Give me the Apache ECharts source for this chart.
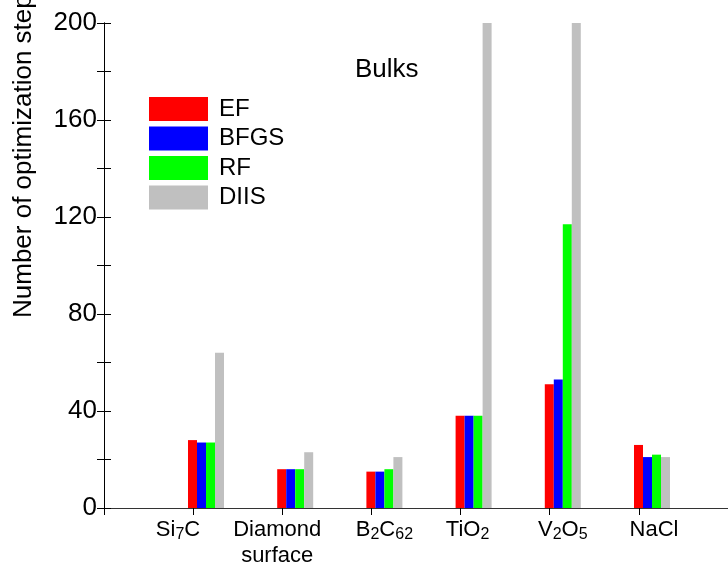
<!DOCTYPE html>
<html>
<head>
<meta charset="utf-8">
<script src="https://cdn.jsdelivr.net/npm/echarts@6/dist/echarts.min.js"></script>
<style>
  html, body { margin: 0; padding: 0; background: #fff; }
  #chart { width: 728px; height: 569px; }
</style>
</head>
<body>
<div id="chart"></div>
<script>
// Optimization steps per method for each bulk system
const categories = ['Si{s|7}C', 'Diamond\nsurface', 'B{s|2}C{s|62}', 'TiO{s|2}', 'V{s|2}O{s|5}', 'NaCl'];
const methods = ['EF', 'BFGS', 'RF', 'DIIS'];
const efSteps   = [28, 16, 15, 38, 51, 26];
const bfgsSteps = [27, 16, 15, 38, 53, 21];
const rfSteps   = [27, 16, 16, 38, 117, 22];
const diisSteps = [64, 23, 21, 200, 200, 21];
const yTicks = [0, 40, 80, 120, 160, 200];

const colors = ['#ff0000', '#0000ff', '#00ff00', '#c0c0c0'];
const FONT = 'Liberation Sans, Arial, Helvetica, sans-serif';

// horizontal label nudges (px) for the category names
const labelNudge = [-28, -18, 0, -6, 0, 2];

const chart = echarts.init(document.getElementById('chart'), null, { renderer: 'canvas' });

const frameLine = { show: true, lineStyle: { color: '#000', width: 1 } };
const tickIn = { show: true, inside: true, length: 7, lineStyle: { color: '#000', width: 1 } };

const seriesValues = [efSteps, bfgsSteps, rfSteps, diisSteps];

const option = {
  animation: false,
  backgroundColor: '#fff',
  title: {
    text: 'Bulks',
    left: 355, top: 57, padding: 0,
    textStyle: { fontFamily: FONT, fontSize: 26, fontWeight: 'normal', color: '#000' }
  },
  legend: {
    data: methods,
    orient: 'vertical',
    left: 149, top: 97, padding: 0,
    itemWidth: 59, itemHeight: 24, itemGap: 5.5,
    icon: 'rect',
    selectedMode: false,
    textStyle: { fontFamily: FONT, fontSize: 24, color: '#000', lineHeight: 24, padding: [0, 0, 0, 6] }
  },
  grid: [
    // frame with the axes
    { left: 104, right: 0, top: 23, bottom: 61, containLabel: false },
    // band layout for the grouped bars
    { left: 161.4, right: 31.4, top: 23, bottom: 61, containLabel: false }
  ],
  xAxis: [
    { gridIndex: 0, type: 'value', min: 0, max: 7, interval: 1, position: 'bottom',
      axisLine: frameLine, axisTick: tickIn, axisLabel: { show: false }, splitLine: { show: false } },
    { gridIndex: 0, type: 'value', min: 0, max: 7, interval: 1, position: 'top',
      axisLine: { show: true, lineStyle: { color: '#333', width: 1 } }, axisTick: tickIn,
      axisLabel: { show: false }, splitLine: { show: false } },
    { gridIndex: 1, type: 'category', position: 'bottom',
      data: categories.map((c, i) => ({
        value: c,
        textStyle: { padding: labelNudge[i] < 0 ? [0, -2 * labelNudge[i], 0, 0] : [0, 0, 0, 2 * labelNudge[i]] }
      })),
      boundaryGap: true,
      axisLine: { show: false }, axisTick: { show: false }, splitLine: { show: false },
      axisLabel: {
        show: true, interval: 0, margin: 9,
        fontFamily: FONT, fontSize: 22, color: '#000', lineHeight: 26,
        rich: {
          s: { fontFamily: FONT, fontSize: 16, color: '#000', lineHeight: 10, verticalAlign: 'bottom' }
        }
      }
    }
  ],
  yAxis: [
    { gridIndex: 0, type: 'value', min: 0, max: 200, interval: 20, position: 'left',
      axisLine: frameLine, axisTick: tickIn, splitLine: { show: false },
      axisLabel: {
        show: true, margin: 7, fontFamily: FONT, fontSize: 26, color: '#000',
        padding: [7, 0, 0, 0],
        formatter: v => (yTicks.indexOf(v) >= 0 ? String(v) : '')
      }
    },
    { gridIndex: 0, type: 'value', min: 0, max: 200, interval: 20, position: 'right',
      axisLine: frameLine, axisTick: tickIn, axisLabel: { show: false }, splitLine: { show: false } },
    { gridIndex: 1, type: 'value', min: 0, max: 200, show: false, splitLine: { show: false } }
  ],
  graphic: [
    {
      type: 'text',
      x: 24, y: 318,
      rotation: Math.PI / 2,
      style: {
        text: 'Number of optimization steps',
        fontFamily: FONT, fontSize: 26, fill: '#000',
        textAlign: 'left', textVerticalAlign: 'middle'
      }
    }
  ],
  series: methods.map((m, i) => ({
    name: m,
    type: 'bar',
    xAxisIndex: 2,
    yAxisIndex: 2,
    data: seriesValues[i],
    barWidth: 9,
    barGap: '0%',
    itemStyle: { color: colors[i] },
    emphasis: { disabled: true }
  }))
};

chart.setOption(option);
</script>
</body>
</html>
